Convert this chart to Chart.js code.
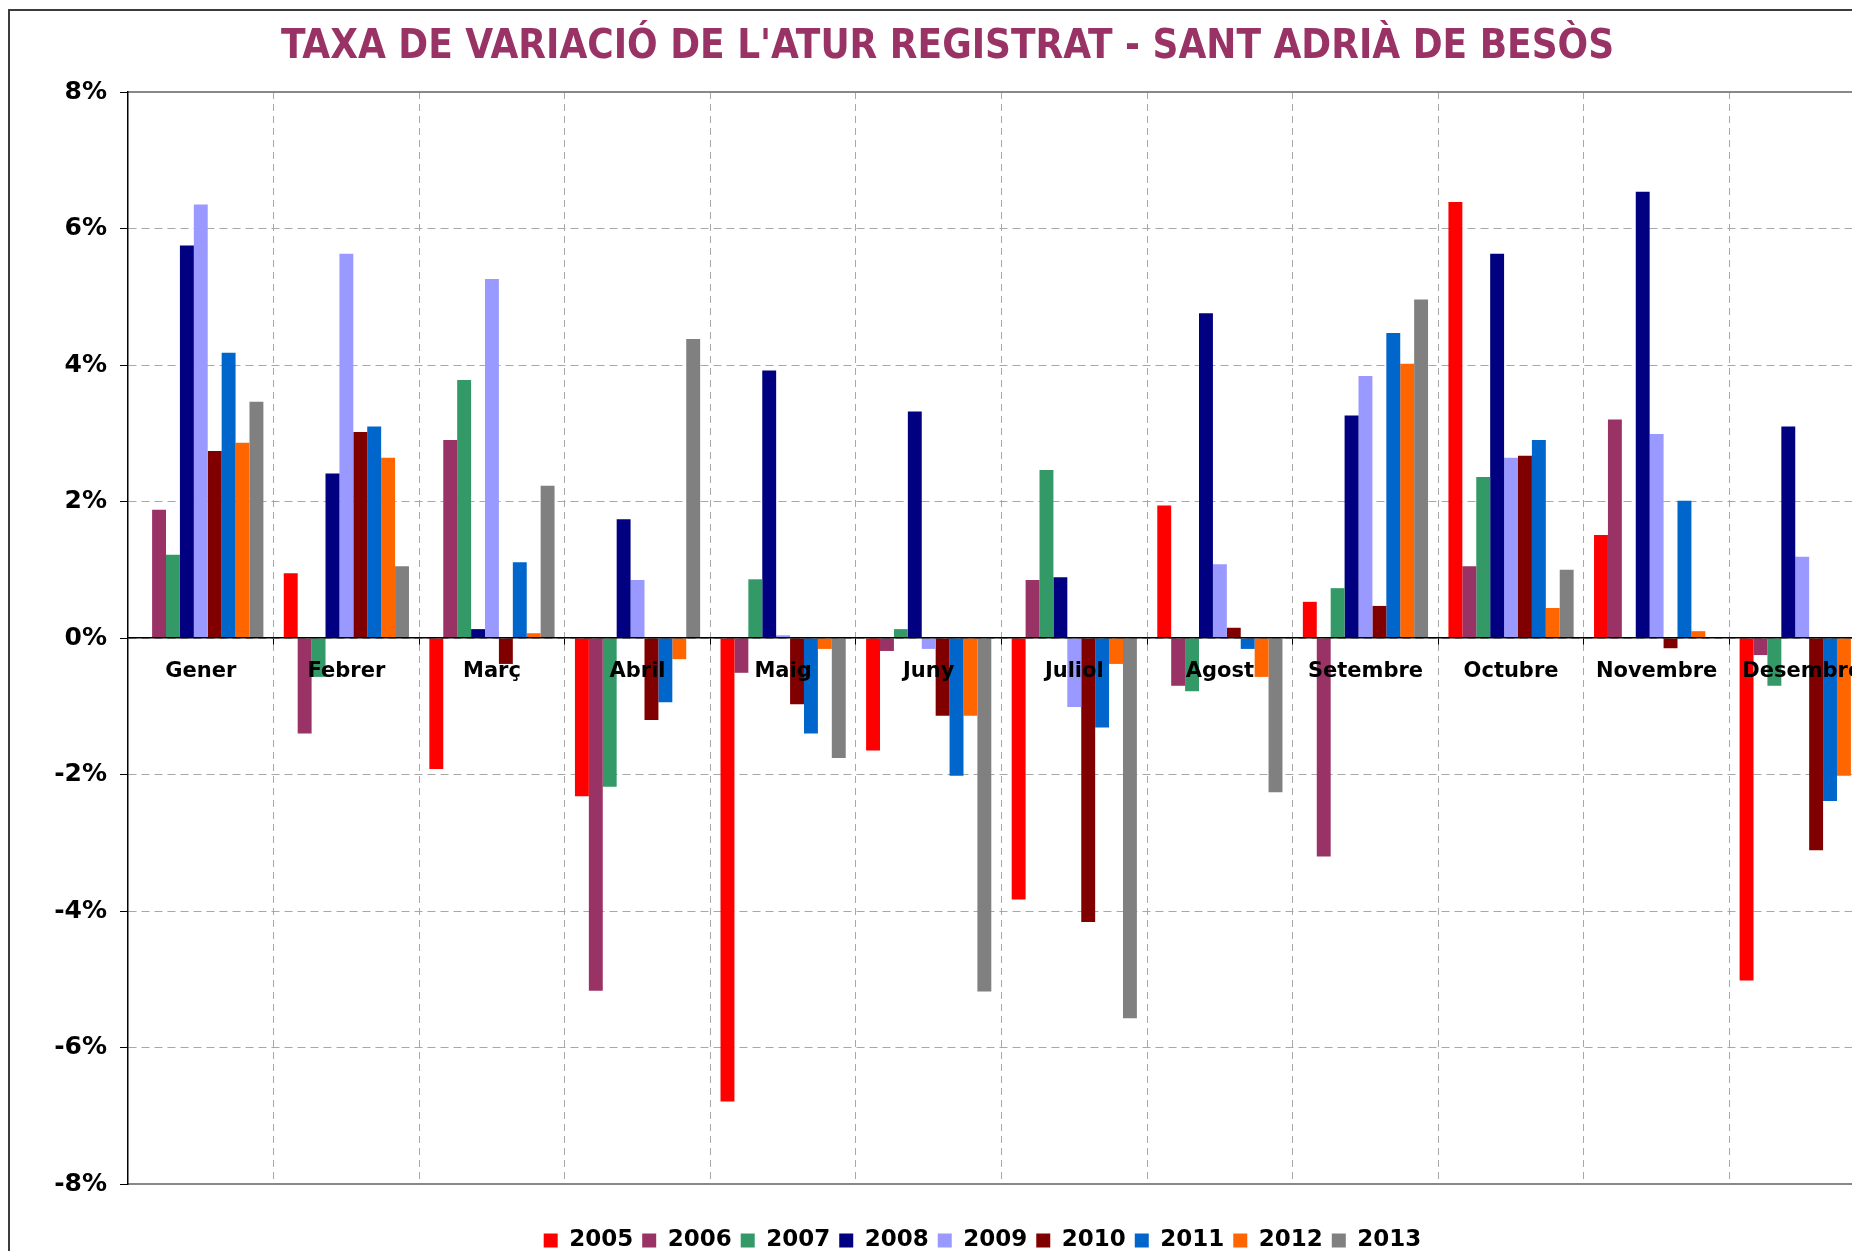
<!DOCTYPE html>
<html>
<head>
<meta charset="utf-8">
<script src="https://cdn.jsdelivr.net/npm/chart.js@4.4.0/dist/chart.umd.min.js"></script>
<style>
  html, body { margin: 0; padding: 0; background: #fff; overflow: hidden; width: 1852px; height: 1251px; }
  #frame { position: absolute; left: 8px; top: 9px; width: 2000px; height: 1300px;
           border-left: 2px solid #3c3c3c; border-top: 2px solid #3c3c3c; }
  canvas { display: block; }
</style>
</head>
<body>
<div id="frame"><canvas id="c" width="1944" height="1251"></canvas></div>
<script>
const months = ['Gener','Febrer','Març','Abril','Maig','Juny','Juliol','Agost','Setembre','Octubre','Novembre','Desembre'];
const years = ['2005','2006','2007','2008','2009','2010','2011','2012','2013'];
const yTicks = [-8, -6, -4, -2, 0, 2, 4, 6, 8];

const v2005 = [null, 0.95, -1.92, -2.32, -6.79, -1.65, -3.83, 1.94, 0.53, 6.39, 1.51, -5.02];
const v2006 = [1.88, -1.40, 2.90, -5.17, -0.51, -0.19, 0.85, -0.70, -3.20, 1.05, 3.20, -0.25];
const v2007 = [1.22, -0.57, 3.78, -2.18, 0.86, 0.13, 2.46, -0.78, 0.73, 2.36, null, -0.70];
const v2008 = [5.75, 2.41, 0.13, 1.74, 3.92, 3.32, 0.89, 4.76, 3.26, 5.63, 6.54, 3.10];
const v2009 = [6.35, 5.63, 5.26, 0.85, 0.04, -0.16, -1.01, 1.08, 3.84, 2.64, 2.99, 1.19];
const v2010 = [2.74, 3.02, -0.38, -1.20, -0.97, -1.14, -4.16, 0.15, 0.47, 2.67, -0.15, -3.11];
const v2011 = [4.18, 3.10, 1.11, -0.94, -1.40, -2.02, -1.31, -0.16, 4.47, 2.90, 2.01, -2.39];
const v2012 = [2.86, 2.64, 0.07, -0.31, -0.16, -1.14, -0.38, -0.57, 4.02, 0.44, 0.10, -2.02];
const v2013 = [3.46, 1.05, 2.23, 4.38, -1.76, -5.18, -5.57, -2.26, 4.96, 1.00, null, null];

const seriesValues = [v2005, v2006, v2007, v2008, v2009, v2010, v2011, v2012, v2013];
const colors = ['#FF0000','#993366','#339966','#000080','#9999FF','#800000','#0066CC','#FF6600','#808080'];

Chart.defaults.font.family = "'DejaVu Sans', Verdana, sans-serif";
Chart.defaults.color = '#000';

const shiftBlocks = {
  id: 'shiftBlocks',
  afterLayout(chart) {
    const t = chart.titleBlock;
    if (t) { t.left += 5; t.right += 5; }
    const l = chart.legend;
    if (l) { l.left += 40; l.right += 40; }
  }
};

new Chart(document.getElementById('c'), {
  type: 'bar',
  data: {
    labels: months,
    datasets: years.map((y, i) => ({
      label: y,
      data: seriesValues[i],
      backgroundColor: colors[i],
      borderWidth: 0,
      categoryPercentage: 0.86,
      barPercentage: 1.0,
      xAxisID: 'x',
      yAxisID: 'y'
    }))
  },
  options: {
    responsive: false,
    animation: false,
    layout: { padding: { left: 0, right: 79, top: 0, bottom: 0 } },
    plugins: {
      tooltip: { enabled: false },
      title: {
        display: true,
        text: "TAXA DE VARIACIÓ DE L'ATUR REGISTRAT - SANT ADRIÀ DE BESÒS",
        color: '#993366',
        font: { family: "'DejaVu Sans Condensed', 'DejaVu Sans', sans-serif", size: 40, weight: 'bold' },
        padding: { top: 13, bottom: 0 }
      },
      legend: {
        display: true,
        position: 'bottom',
        labels: {
          color: '#000',
          font: { size: 23, weight: 'bold' },
          boxWidth: 14,
          boxHeight: 14,
          padding: 9
        }
      }
    },
    scales: {
      x: {
        type: 'category',
        position: { y: 0 },
        offset: true,
        grid: {
          display: true,
          offset: true,
          color: '#a8a8a8',
          lineWidth: 1,
          drawTicks: true,
          tickLength: 6,
          tickColor: '#000'
        },
        border: { display: true, color: '#000', width: 1.5, dash: [7, 5], z: 1 },
        ticks: {
          autoSkip: false,
          maxRotation: 0,
          minRotation: 0,
          padding: 15,
          color: '#000',
          font: { size: 21, weight: 'bold' },
          z: 1
        }
      },
      xt: {
        type: 'category',
        position: 'top',
        grid: { display: false },
        ticks: { display: false },
        border: { display: true, color: '#888', width: 2 },
        afterFit(s) { s.height = 20; }
      },
      xb: {
        type: 'category',
        position: 'bottom',
        grid: { display: false },
        ticks: { display: false },
        border: { display: true, color: '#888', width: 2 },
        afterFit(s) { s.height = 36; }
      },
      y: {
        type: 'linear',
        position: 'left',
        min: yTicks[0],
        max: yTicks[yTicks.length - 1],
        afterBuildTicks(s) { s.ticks = yTicks.map(v => ({ value: v })); },
        afterFit(s) { s.width = 118; },
        grid: {
          color: (ctx) => (ctx.tick && (ctx.tick.value === 8 || ctx.tick.value === -8)) ? 'rgba(0,0,0,0)' : '#a8a8a8',
          lineWidth: 1,
          drawTicks: true,
          tickLength: 8,
          tickColor: '#000'
        },
        border: { display: true, color: '#000', width: 1.5, dash: [8, 5] },
        ticks: {
          padding: 13,
          color: '#000',
          font: { size: 25, weight: 'bold' },
          callback: (v) => v + '%'
        }
      }
    }
  },
  plugins: [shiftBlocks]
});
</script>
</body>
</html>
